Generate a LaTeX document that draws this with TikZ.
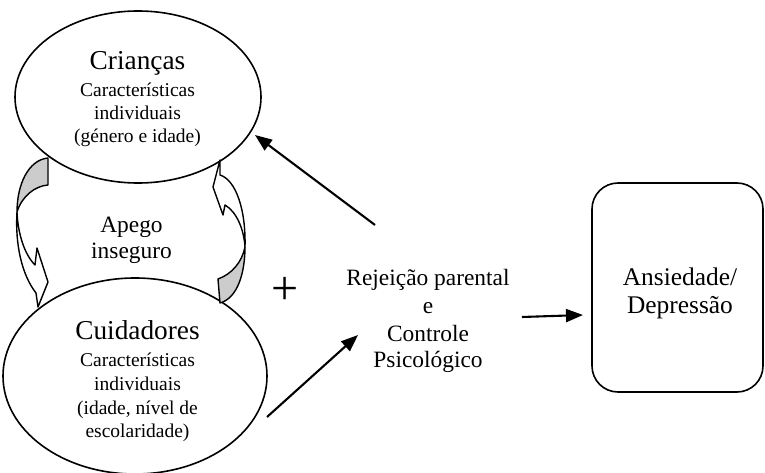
\documentclass[tikz,border=0pt]{standalone}
\usepackage{fontspec}
\setmainfont{Liberation Serif}
\usetikzlibrary{shapes.geometric,arrows.meta}
\newcommand\myfs[1]{\fontsize{#1}{#1}\selectfont}
\begin{document}
\begin{tikzpicture}[x=1pt,y=-1pt,
  oval/.style={draw,ellipse,line width=1.6pt,inner sep=0pt},
  big/.style={font=\myfs{27.3}},
  small/.style={font=\myfs{19.5}},
  mid/.style={font=\myfs{23.4}},
  lbl/.style={anchor=base,inner sep=0pt},
  link/.style={line width=2.1pt,-{Triangle[length=17pt,width=13pt]}},
  band/.style={line width=1.4pt,line join=round}]
\useasboundingbox (0,0) rectangle (765,473);
% ellipses and box
\node[oval,minimum width=246pt,minimum height=172pt] (kids) at (138,97) {};
\node[oval,minimum width=264pt,minimum height=196pt] (care) at (135,376) {};
\node[draw,line width=1.6pt,rounded corners=26pt,minimum width=171pt,minimum height=209pt,inner sep=0pt] (out) at (677.5,287.5) {};
% curved block arrows
\draw[band,fill=gray!40] (48,158) .. controls (28,160) and (17,185) .. (17,212) .. controls (22,196) and (35,186) .. (48,185) -- cycle;
\draw[band,fill=white] (17,212) .. controls (15,245) and (22,275) .. (36,293) -- (38,307) -- (48,282) -- (37,248) -- (35,265) .. controls (25,255) and (18,235) .. (17,212) -- cycle;
\draw[band,fill=gray!40] (220,303) .. controls (238,298) and (245,272) .. (245,247) .. controls (242,262) and (232,274) .. (218,279) -- cycle;
\draw[band,fill=white] (245,247) .. controls (246,210) and (236,180) .. (220,175) -- (220,160) -- (213,187) -- (223,215) -- (225,205) .. controls (237,212) and (244,230) .. (245,247) -- cycle;
% texts
\node[lbl,big] (k1) at (137.5,70) {Crianças};
\node[lbl,small] (k2) at (137.5,97) {Características};
\node[lbl,small] (k3) at (137.5,120) {individuais};
\node[lbl,small] (k4) at (137.5,143) {(género e idade)};
\node[lbl,big] (c1) at (137.5,339) {Cuidadores};
\node[lbl,small] (c2) at (137.5,366) {Características};
\node[lbl,small] (c3) at (137.5,390) {individuais};
\node[lbl,small] (c4) at (137.5,414) {(idade, nível de};
\node[lbl,small] (c5) at (137.5,437) {escolaridade)};
\node[lbl,mid] (a1) at (131.5,232) {Apego};
\node[lbl,mid] (a2) at (131.5,258) {inseguro};
\node[lbl,mid] (r1) at (428,285) {Rejeição parental};
\node[lbl,mid] (r2) at (428,313) {e};
\node[lbl,mid] (r3) at (428,341) {Controle};
\node[lbl,mid] (r4) at (428,367) {Psicológico};
\node[lbl,font=\myfs{25.4}] (o1) at (680,285) {Ansiedade/};
\node[lbl,font=\myfs{25.4}] (o2) at (680,313) {Depressão};
\node[lbl,font=\myfs{48}] (plus) at (285,304) {+};
% connectors
\coordinate (rtop) at (375,225);
\coordinate (ktip) at (255,135);
\coordinate (cstart) at (267,417);
\coordinate (rtip) at (358,335);
\coordinate (rout) at (522,317);
\coordinate (otip) at (583,315);
\draw[link] (rtop) -- (ktip);
\draw[link] (cstart) -- (rtip);
\draw[link] (rout) -- (otip);
\end{tikzpicture}
\end{document}
